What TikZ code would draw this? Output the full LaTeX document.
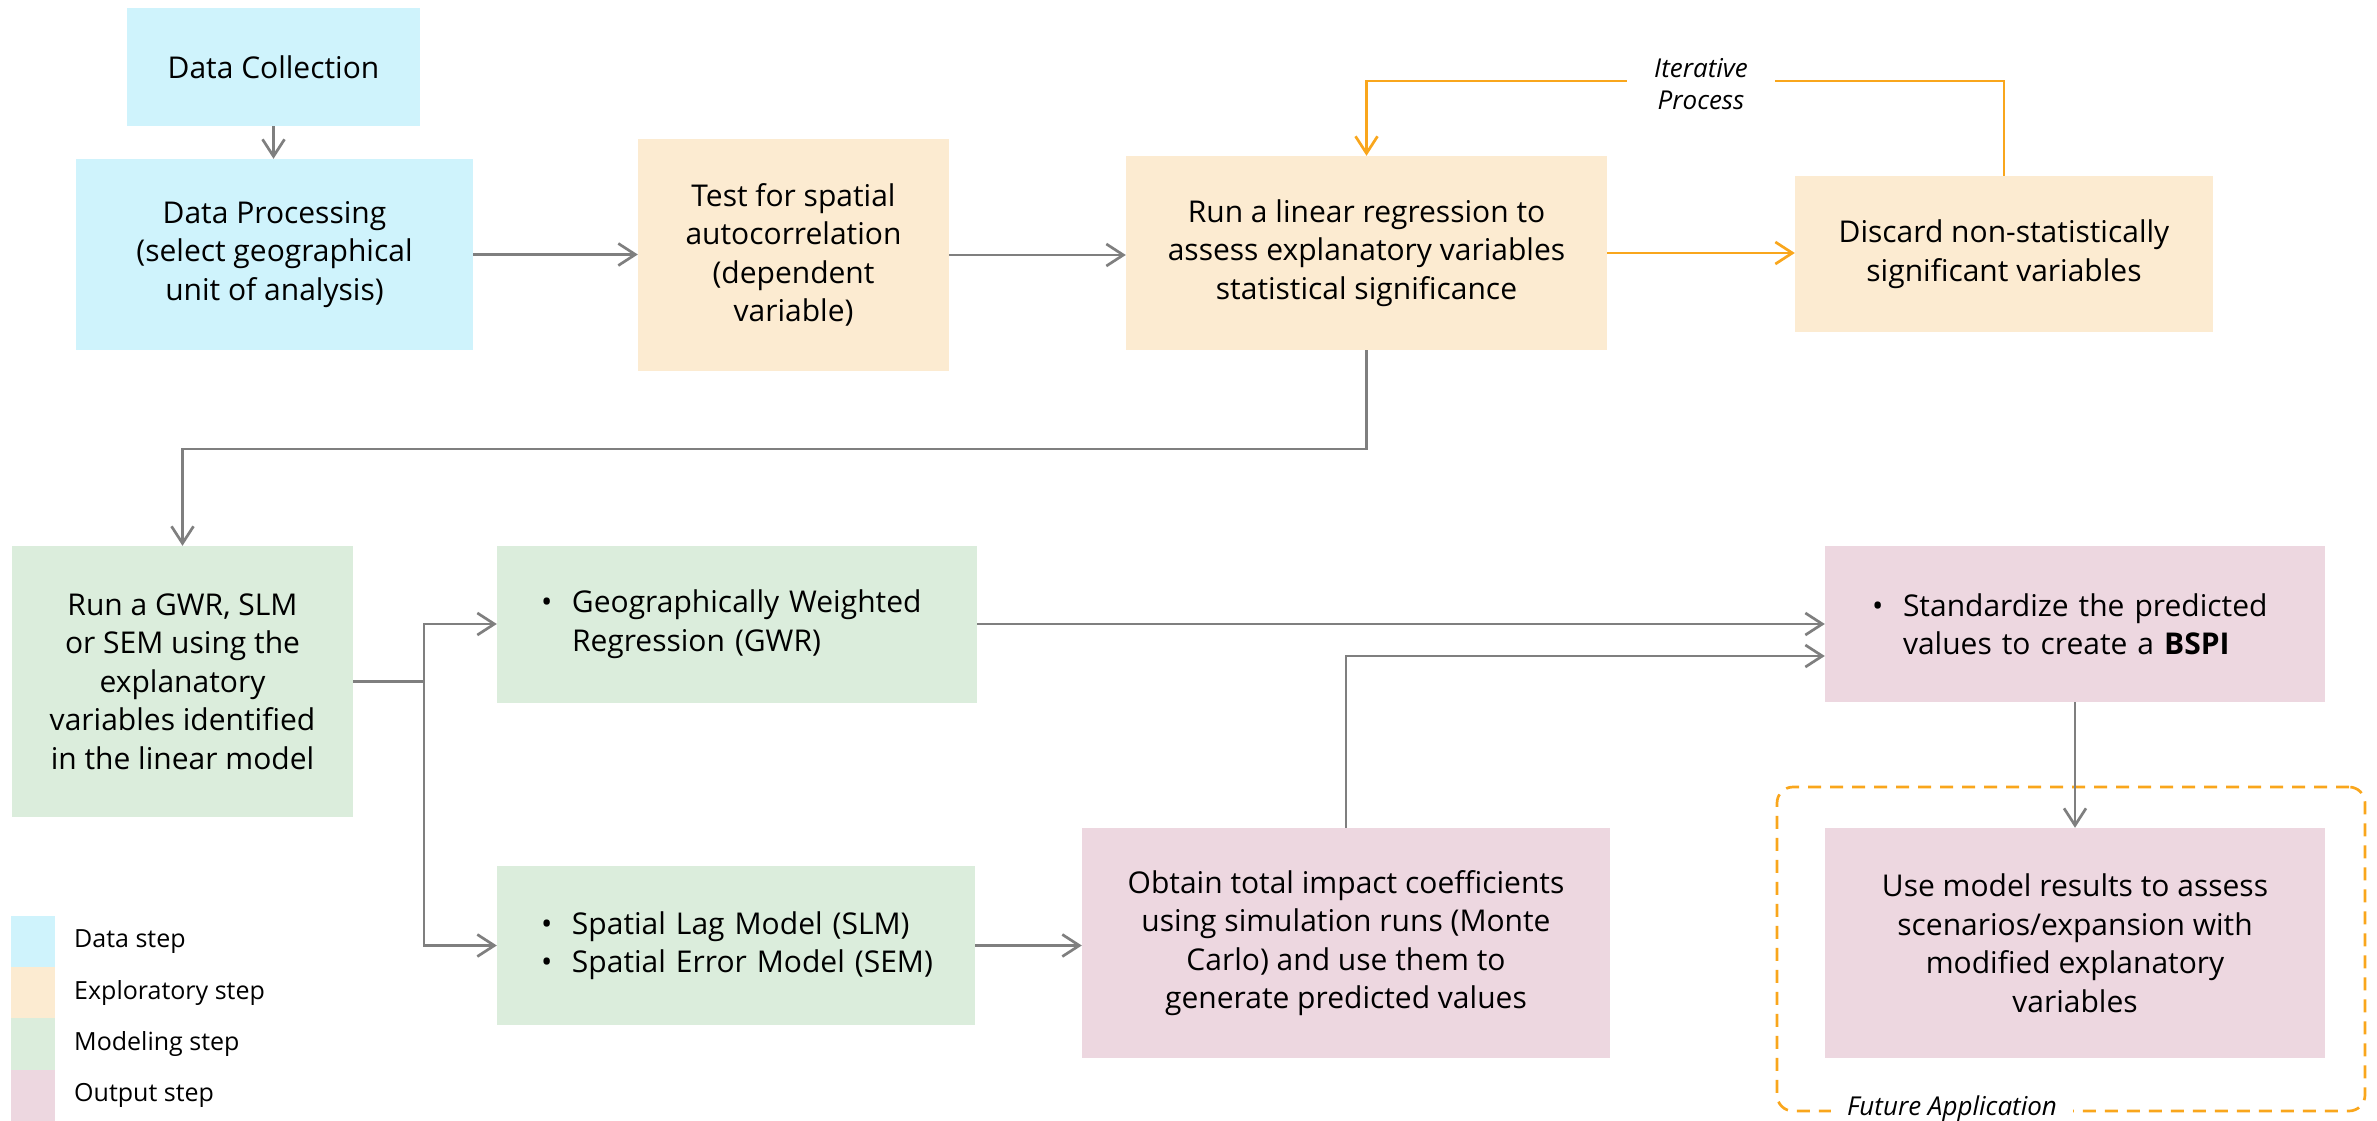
\documentclass[tikz,border=0pt]{standalone}
\usepackage{fontspec}
\setmainfont{Open Sans}
\usetikzlibrary{arrows.meta}

\definecolor{datablue}{HTML}{CFF3FC}
\definecolor{explobeige}{HTML}{FCEBD1}
\definecolor{modelgreen}{HTML}{DBEDDC}
\definecolor{outputpink}{HTML}{EDD7E0}
\definecolor{linegray}{HTML}{7F7F7F}
\definecolor{iterorange}{HTML}{F9A61C}

\newcommand\mainsize{\fontsize{30}{38.5}\selectfont}
\newcommand\legsize{\fontsize{25}{31}\selectfont}
\newcommand\tagsize{\fontsize{26}{32}\selectfont}
% bulleted line and continuation line, kept unbroken
\newcommand\bulline[1]{\mbox{\makebox[31pt][l]{•}#1}}
\newcommand\contline[1]{\mbox{\hspace*{31pt}#1}}

\begin{document}
\begin{tikzpicture}[x=1pt,y=-1pt,
  box/.style={inner sep=0pt, align=center, font=\mainsize},
  databox/.style={box, fill=datablue},
  explobox/.style={box, fill=explobeige},
  modelbox/.style={box, fill=modelgreen},
  outbox/.style={box, fill=outputpink},
  conn/.style={draw=linegray, line width=2.7pt, -{Straight Barb[length=17pt,width=22pt]}},
  gline/.style={draw=linegray, line width=2.7pt},
  oconn/.style={draw=iterorange, line width=2.7pt, -{Straight Barb[length=17pt,width=22pt]}},
  legbox/.style={inner sep=0pt, minimum width=44pt, minimum height=51.25pt},
  legtext/.style={anchor=west, inner sep=0pt, font=\legsize},
  tag/.style={fill=white, align=center, font=\tagsize\itshape, inner sep=0pt}
]
\useasboundingbox (0,0) rectangle (2377,1121);

% data steps
\node[databox, minimum width=293pt, minimum height=118pt] (dc) at (273.5,67) {Data Collection};
\node[databox, minimum width=397pt, minimum height=191pt] (dp) at (274.5,254.5)
  {Data Processing\\(select geographical\\unit of analysis)};

% exploratory steps
\node[explobox, minimum width=311pt, minimum height=232pt] (test) at (793.5,255)
  {Test for spatial\\autocorrelation\\(dependent\\variable)};
\node[explobox, minimum width=481pt, minimum height=194pt] (lin) at (1366.5,253)
  {Run a linear regression to\\assess explanatory variables\\statistical significance};
\node[explobox, minimum width=418pt, minimum height=156pt] (disc) at (2004,254)
  {Discard non-statistically\\significant variables};

% modeling steps
\node[modelbox, minimum width=341pt, minimum height=271pt] (gwrrun) at (182.5,681.5)
  {Run a GWR, SLM\\or SEM using the\\explanatory\\variables identified\\in the linear model};
\node[modelbox, align=left, text width=392pt, inner xsep=44pt, minimum height=157pt] (gwr) at (737,624)
  {\bulline{Geographically Weighted}\\\contline{Regression (GWR)}};
\node[modelbox, align=left, text width=390pt, inner xsep=44pt, minimum height=159pt] (slm) at (736,945.5)
  {\bulline{Spatial Lag Model (SLM)}\\\bulline{Spatial Error Model (SEM)}};

% output steps
\node[outbox, minimum width=528pt, minimum height=230pt] (obt) at (1346,943)
  {Obtain total impact coefficients\\using simulation runs (Monte\\Carlo) and use them to\\generate predicted values};
\node[outbox, align=left, text width=406pt, inner xsep=47pt, minimum height=156pt] (std) at (2075,624)
  {\bulline{Standardize the predicted}\\\contline{values to create a \textbf{BSPI}}};
\node[outbox, minimum width=500pt, minimum height=230pt] (use) at (2075,943)
  {Use model results to assess\\scenarios/expansion with\\modified explanatory\\variables};

% future application frame
\node[draw=iterorange, line width=2.7pt, dash pattern=on 13pt off 9pt, rounded corners=16pt,
  minimum width=588pt, minimum height=324pt, inner sep=0pt] (fut) at (2071,949) {};
\node[tag, anchor=base, inner xsep=16pt] (futlabel) at (1952,1115) {Future Application};

% connectors
\draw[conn] (dc.south) -- (dc.south |- dp.north);
\draw[conn] (dp.east) -- (dp.east -| test.west);
\draw[conn] (test.east) -- (test.east -| lin.west);
\draw[oconn] (lin.east) -- (lin.east -| disc.west);

\coordinate (looptop) at (0,81);
\draw[oconn] (disc.north) -- (disc.north |- looptop) -- (lin.north |- looptop) -- (lin.north);
\node[tag, minimum width=148pt] (iter) at (1701,84) {Iterative\\Process};

\coordinate (drop) at (0,449);
\draw[conn] (lin.south) -- (lin.south |- drop) -- (gwrrun.north |- drop) -- (gwrrun.north);

\coordinate (split) at (424,681.5);
\draw[gline] (gwrrun.east) -- (split);
\draw[conn] (split) |- (gwr.west);
\draw[conn] (split) |- (slm.west);

\draw[conn] (gwr.east) -- (gwr.east -| std.west);
\draw[conn] (slm.east) -- (slm.east -| obt.west);
\coordinate (rise) at (0,656);
\draw[conn] (obt.north) -- (obt.north |- rise) -- (std.west |- rise);
\draw[conn] (std.south) -- (use.north);

% legend
\node[legbox, fill=datablue]   (lg1) at (33,941.6)  {};
\node[legbox, fill=explobeige] (lg2) at (33,992.9)  {};
\node[legbox, fill=modelgreen] (lg3) at (33,1044.1) {};
\node[legbox, fill=outputpink] (lg4) at (33,1095.4) {};
\node[legtext] (lt1) at (74,941.6)  {Data step};
\node[legtext] (lt2) at (74,992.9)  {Exploratory step};
\node[legtext] (lt3) at (74,1044.1) {Modeling step};
\node[legtext] (lt4) at (74,1095.4) {Output step};
\end{tikzpicture}
\end{document}
